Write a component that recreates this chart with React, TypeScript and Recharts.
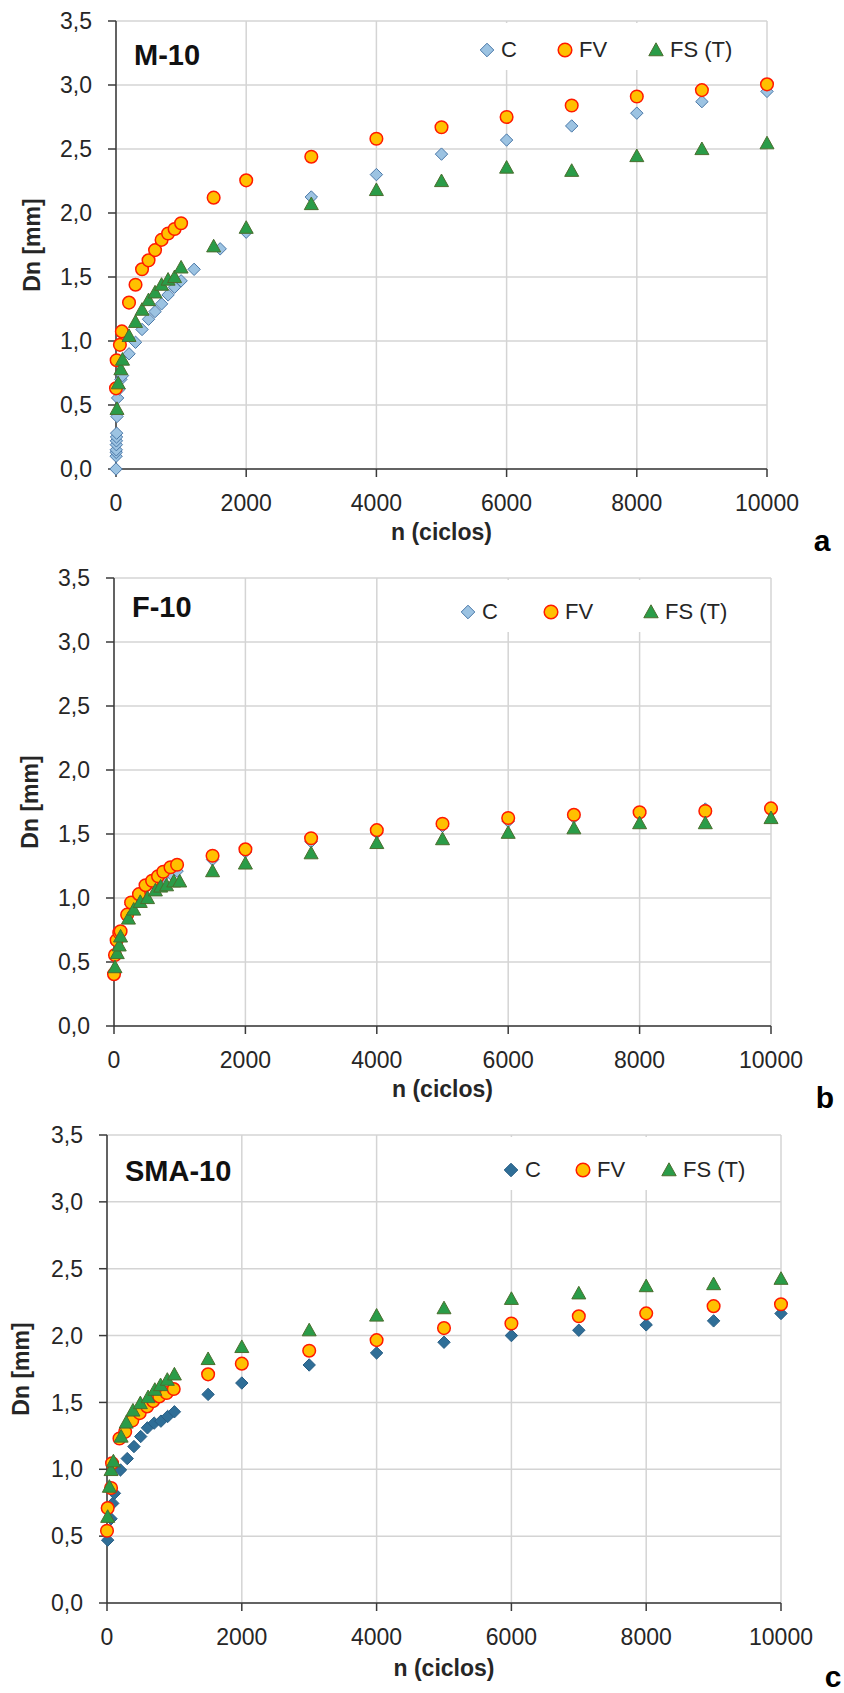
import React from 'react';
import { ScatterChart, Scatter, XAxis, YAxis, CartesianGrid } from 'recharts';

type Pt = [number, number];

// n (ciclos), Dn [mm]
const m10C: Pt[] = [
  [0, 0], [2, 0.1], [3, 0.13], [4, 0.15], [5, 0.19], [6, 0.22], [8, 0.25], [10, 0.28], [15, 0.41],
  [25, 0.555], [50, 0.625], [75, 0.7], [100, 0.73], [200, 0.9], [300, 0.99], [400, 1.09], [500, 1.17],
  [600, 1.23], [700, 1.29], [800, 1.36], [900, 1.42], [1000, 1.47], [1200, 1.56], [1600, 1.72],
  [2000, 1.85], [3000, 2.125], [4000, 2.3], [5000, 2.46], [6000, 2.57], [7000, 2.68], [8000, 2.78],
  [9000, 2.87], [10000, 2.95],
];
const m10FV: Pt[] = [
  [0, 0.63], [10, 0.85], [60, 0.97], [90, 1.075], [200, 1.3], [300, 1.44], [400, 1.56], [500, 1.63],
  [600, 1.71], [700, 1.79], [800, 1.84], [900, 1.875], [1000, 1.92], [1500, 2.12], [2000, 2.255],
  [3000, 2.44], [4000, 2.58], [5000, 2.67], [6000, 2.75], [7000, 2.84], [8000, 2.91], [9000, 2.96],
  [10000, 3.005],
];
const m10FS: Pt[] = [
  [15, 0.47], [35, 0.67], [75, 0.78], [100, 0.855], [200, 1.04], [300, 1.15], [400, 1.245], [500, 1.32],
  [600, 1.38], [700, 1.44], [800, 1.48], [900, 1.5], [1000, 1.575], [1500, 1.74], [2000, 1.885],
  [3000, 2.07], [4000, 2.18], [5000, 2.25], [6000, 2.355], [7000, 2.33], [8000, 2.445], [9000, 2.5],
  [10000, 2.545],
];

const f10C: Pt[] = [
  [0, 0.42], [15, 0.55], [40, 0.65], [80, 0.72], [100, 0.73], [200, 0.86], [260, 0.95], [380, 1.02],
  [480, 1.08], [580, 1.12], [670, 1.15], [750, 1.17], [860, 1.19], [960, 1.21], [1500, 1.3], [2000, 1.36],
  [3000, 1.44], [4000, 1.51], [5000, 1.56], [6000, 1.6], [7000, 1.63], [8000, 1.66], [9000, 1.695],
  [10000, 1.69],
];
const f10FV: Pt[] = [
  [0, 0.405], [15, 0.555], [40, 0.67], [80, 0.73], [100, 0.74], [200, 0.87], [260, 0.965], [380, 1.03],
  [480, 1.1], [580, 1.135], [670, 1.17], [750, 1.205], [860, 1.24], [960, 1.26], [1500, 1.33], [2000, 1.38],
  [3000, 1.467], [4000, 1.53], [5000, 1.58], [6000, 1.625], [7000, 1.65], [8000, 1.67], [9000, 1.68],
  [10000, 1.7],
];
const f10FS: Pt[] = [
  [15, 0.46], [50, 0.57], [80, 0.63], [100, 0.7], [220, 0.84], [300, 0.91], [400, 0.97], [510, 1.0],
  [630, 1.06], [710, 1.09], [800, 1.1], [910, 1.13], [1000, 1.13], [1500, 1.21], [2000, 1.27],
  [3000, 1.35], [4000, 1.43], [5000, 1.46], [6000, 1.51], [7000, 1.545], [8000, 1.585], [9000, 1.585],
  [10000, 1.625],
];

const sma10C: Pt[] = [
  [10, 0.47], [60, 0.63], [85, 0.745], [110, 0.82], [200, 0.995], [300, 1.08], [400, 1.17], [500, 1.245],
  [600, 1.31], [700, 1.345], [800, 1.36], [900, 1.395], [1000, 1.43], [1500, 1.56], [2000, 1.645],
  [3000, 1.78], [4000, 1.87], [5000, 1.95], [6000, 2.0], [7000, 2.04], [8000, 2.08], [9000, 2.11],
  [10000, 2.165],
];
const sma10FV: Pt[] = [
  [0, 0.54], [10, 0.71], [60, 0.86], [75, 1.045], [185, 1.23], [270, 1.28], [375, 1.365], [485, 1.42],
  [595, 1.47], [685, 1.51], [775, 1.545], [885, 1.57], [990, 1.6], [1500, 1.71], [2000, 1.79],
  [3000, 1.887], [4000, 1.966], [5000, 2.056], [6000, 2.09], [7000, 2.144], [8000, 2.166], [9000, 2.22],
  [10000, 2.234],
];
const sma10FS: Pt[] = [
  [10, 0.645], [35, 0.87], [60, 0.995], [95, 1.06], [210, 1.245], [285, 1.35], [385, 1.44], [495, 1.495],
  [610, 1.54], [710, 1.595], [795, 1.63], [895, 1.67], [1000, 1.71], [1500, 1.825], [2000, 1.915],
  [3000, 2.04], [4000, 2.15], [5000, 2.205], [6000, 2.275], [7000, 2.316], [8000, 2.37], [9000, 2.385],
  [10000, 2.425],
];

const xTicks = [0, 2000, 4000, 6000, 8000, 10000];
const yTicks = [0, 0.5, 1, 1.5, 2, 2.5, 3, 3.5];
const seriesNames = ['C', 'FV', 'FS (T)'];

const W = 844;
const FONT = '"Liberation Sans", Arial, sans-serif';
const AX = '#3a3a3a';
const TXT = '#262626';

const toRows = (pts: Pt[]) => pts.map(([n, dn]) => ({ n, dn }));

const diamond = (cx: number, cy: number, fill: string, stroke: string, r = 6.2) => (
  <path d={`M${cx},${cy - r}L${cx + r},${cy}L${cx},${cy + r}L${cx - r},${cy}Z`} fill={fill} stroke={stroke} strokeWidth={1} />
);
const circle = (cx: number, cy: number, r = 6.3) => (
  <circle cx={cx} cy={cy} r={r} fill="#ffc000" stroke="#ff1a00" strokeWidth={1.5} />
);
const triangle = (cx: number, cy: number, s = 7) => (
  <path d={`M${cx},${cy - s}L${cx + s},${cy + s * 0.8}L${cx - s},${cy + s * 0.8}Z`} fill="#2a9c48" stroke="#4b6e2e" strokeWidth={1} />
);

interface PanelCfg {
  top: number;
  height: number;
  plotLeft: number;
  plotRight: number;
  plotTop: number;
  plotBottom: number;
  title: string;
  titleY: number;
  legendX: number[]; // icon centres: C, FV, FS
  legendY: number;
  legendBox: [number, number];
  yTitleX: number;
  xTitleY: number;
  letter: string;
  letterX: number;
  letterY: number;
  cFill: string;
  cStroke: string;
}

const Panel = ({ cfg, c, fv, fs }: { cfg: PanelCfg; c: Pt[]; fv: Pt[]; fs: Pt[] }) => {
  const H = cfg.height;
  const plotMid = (cfg.plotTop + cfg.plotBottom) / 2;
  const xMid = (cfg.plotLeft + cfg.plotRight) / 2;
  const label = (x: number, y: number, text: string, size: number, bold: boolean, extra: React.CSSProperties = {}) => (
    <div
      key={text}
      style={{
        position: 'absolute', left: x, top: y, fontFamily: FONT, fontSize: size, fontWeight: bold ? 700 : 400,
        color: TXT, whiteSpace: 'nowrap', lineHeight: 1, ...extra,
      }}
    >
      {text}
    </div>
  );
  return (
    <div style={{ position: 'absolute', left: 0, top: cfg.top, width: W, height: H }}>
      <ScatterChart width={W} height={H} margin={{ top: cfg.plotTop, right: W - cfg.plotRight, bottom: 0, left: 0 }}>
        <CartesianGrid stroke="#d4d4d4" strokeWidth={1.5} />
        <XAxis
          type="number" dataKey="n" domain={[0, 10000]} ticks={xTicks} interval={0}
          height={H - cfg.plotBottom} tickSize={8} tickMargin={18}
          tick={{ fontSize: 23, fill: TXT, fontFamily: FONT }}
          axisLine={{ stroke: AX, strokeWidth: 1.5 }} tickLine={{ stroke: AX, strokeWidth: 1.5 }}
        />
        <XAxis
          xAxisId="top" orientation="top" type="number" domain={[0, 10000]} height={0}
          tick={false} tickLine={false} axisLine={{ stroke: AX, strokeWidth: 1.5 }}
        />
        <YAxis
          type="number" dataKey="dn" domain={[0, 3.5]} ticks={yTicks} interval={0} width={cfg.plotLeft}
          tickSize={8} tickMargin={16} tickFormatter={(v: number) => v.toFixed(1).replace('.', ',')}
          tick={{ fontSize: 23, fill: TXT, fontFamily: FONT }}
          axisLine={{ stroke: AX, strokeWidth: 1.5 }} tickLine={{ stroke: AX, strokeWidth: 1.5 }}
        />
        <YAxis
          yAxisId="right" orientation="right" type="number" domain={[0, 3.5]} width={0}
          tick={false} tickLine={false} axisLine={{ stroke: AX, strokeWidth: 1.5 }}
        />
        <Scatter name={seriesNames[0]} data={toRows(c)} isAnimationActive={false}
          shape={(p: any) => diamond(p.cx, p.cy, cfg.cFill, cfg.cStroke)} />
        <Scatter name={seriesNames[1]} data={toRows(fv)} isAnimationActive={false}
          shape={(p: any) => circle(p.cx, p.cy)} />
        <Scatter name={seriesNames[2]} data={toRows(fs)} isAnimationActive={false}
          shape={(p: any) => triangle(p.cx, p.cy)} />
      </ScatterChart>

      {/* legend */}
      <div
        style={{
          position: 'absolute', left: cfg.legendBox[0], top: cfg.plotTop + 2,
          width: cfg.legendBox[1] - cfg.legendBox[0], height: cfg.legendY + 20 - cfg.plotTop - 2, background: '#fff',
        }}
      />
      <svg style={{ position: 'absolute', left: 0, top: 0 }} width={W} height={cfg.legendY + 20}>
        {diamond(cfg.legendX[0], cfg.legendY, cfg.cFill, cfg.cStroke, 6.8)}
        {circle(cfg.legendX[1], cfg.legendY, 6.8)}
        {triangle(cfg.legendX[2], cfg.legendY, 7.2)}
      </svg>
      {seriesNames.map((s, i) =>
        label(cfg.legendX[i] + 14, cfg.legendY, s, 22, false, { transform: 'translateY(-50%)' })
      )}

      {label(cfg.plotLeft + 18, cfg.titleY, cfg.title, 29, true, { transform: 'translateY(-50%)', color: '#111' })}
      {label(cfg.yTitleX, plotMid, 'Dn [mm]', 23, true, { transform: 'translate(-50%, -50%) rotate(-90deg)' })}
      {label(xMid, cfg.xTitleY, 'n (ciclos)', 23, true, { transform: 'translate(-50%, -50%)' })}
      {label(cfg.letterX, cfg.letterY, cfg.letter, 30, true, { transform: 'translate(-50%, -50%)', color: '#000' })}
    </div>
  );
};

const panelA: PanelCfg = {
  top: 0, height: 557, plotLeft: 116, plotRight: 767, plotTop: 21, plotBottom: 469,
  title: 'M-10', titleY: 55, legendX: [487, 565, 656], legendY: 50, legendBox: [474, 742],
  yTitleX: 32, xTitleY: 532, letter: 'a', letterX: 822, letterY: 541,
  cFill: '#9cc3e2', cStroke: '#4a78a8',
};
const panelB: PanelCfg = {
  top: 557, height: 557, plotLeft: 114, plotRight: 771, plotTop: 21, plotBottom: 469,
  title: 'F-10', titleY: 50, legendX: [468, 551, 651], legendY: 55, legendBox: [455, 738],
  yTitleX: 30, xTitleY: 532, letter: 'b', letterX: 825, letterY: 541,
  cFill: '#9cc3e2', cStroke: '#4a78a8',
};
const panelC: PanelCfg = {
  top: 1114, height: 579, plotLeft: 107, plotRight: 781, plotTop: 21, plotBottom: 489,
  title: 'SMA-10', titleY: 57, legendX: [511, 583, 669], legendY: 56, legendBox: [498, 755],
  yTitleX: 21, xTitleY: 554, letter: 'c', letterX: 833, letterY: 563,
  cFill: '#2f6e97', cStroke: '#285d84',
};

export default function App() {
  return (
    <div style={{ position: 'absolute', left: 0, top: 0, width: W, height: 1693, background: '#fff' }}>
      <Panel cfg={panelA} c={m10C} fv={m10FV} fs={m10FS} />
      <Panel cfg={panelB} c={f10C} fv={f10FV} fs={f10FS} />
      <Panel cfg={panelC} c={sma10C} fv={sma10FV} fs={sma10FS} />
    </div>
  );
}
